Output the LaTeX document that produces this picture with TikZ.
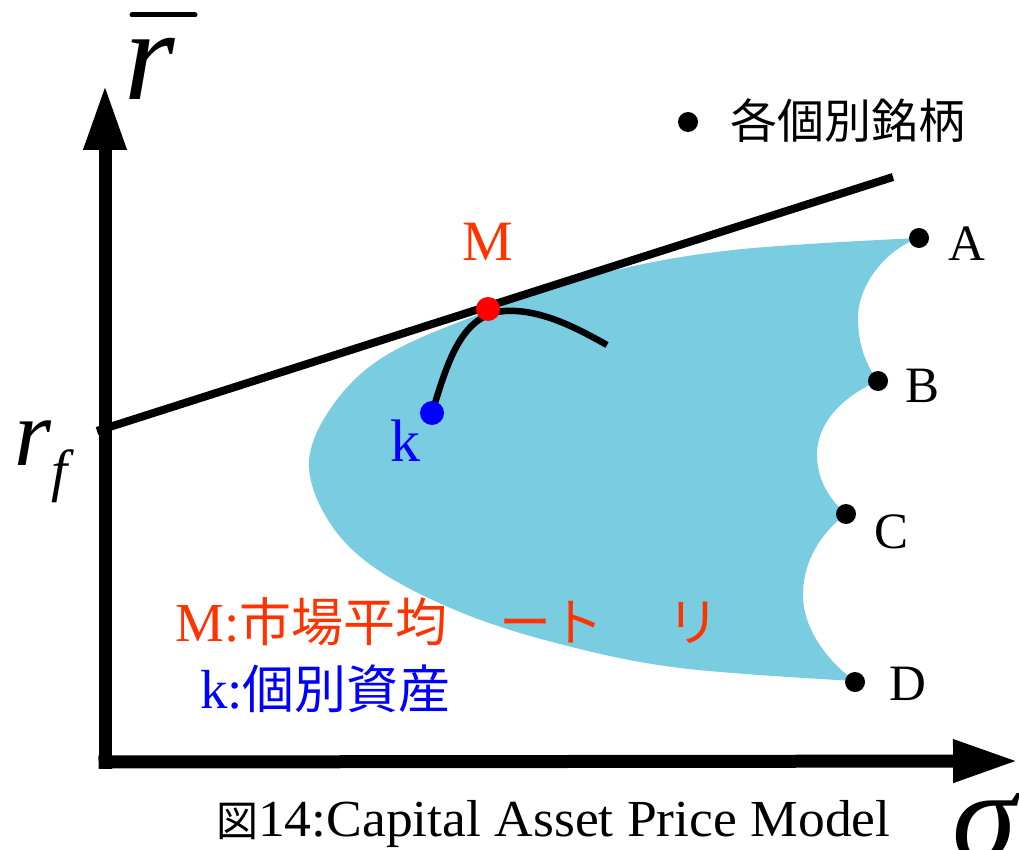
\documentclass[tikz,border=0pt]{standalone}
\usepackage{fontspec}
\setmainfont{Liberation Serif}
\newfontfamily\cjk{Noto Sans CJK JP}
\usetikzlibrary{arrows.meta}
\definecolor{regionblue}{RGB}{122,204,224}
\definecolor{labelred}{RGB}{255,51,0}
\newcommand{\myfs}[1]{\fontsize{#1}{#1}\selectfont}
\begin{document}
\begin{tikzpicture}[x=1pt,y=-1pt,
  dotstyle/.style={circle,fill=black,inner sep=0pt,minimum size=20pt},
  lbl/.style={anchor=base west,inner sep=0pt},
  axis/.style={line width=13pt,line cap=rect,-{Triangle[length=65pt,width=40pt]}}]
\useasboundingbox (0,0) rectangle (1019,850);
% feasible region
\fill[regionblue] plot[smooth,tension=0.6] coordinates {(919,238) (733,250) (600,274) (480,314) (385,356) (333,405) (309,462) (328,520) (375,568) (460,612) (560,644) (680,668) (855,681)}
  .. controls (826,660) and (803,628) .. (803,595)
  .. controls (803,560) and (822,532) .. (846,514)
  .. controls (830,500) and (817,480) .. (817,455)
  .. controls (817,420) and (846,395) .. (878,381)
  .. controls (866,365) and (858,345) .. (858,318)
  .. controls (858,285) and (885,250) .. (919,238) -- cycle;
% capital market line
\coordinate (cmlstart) at (97,431);
\coordinate (cmlend) at (893,177);
\draw[line width=8pt] (cmlstart) -- (cmlend);
% curve k - M
\coordinate (kpos) at (432,413);
\coordinate (Mpos) at (488,309);
\coordinate (cend) at (607,345);
\draw[line width=6.5pt] (kpos) .. controls (448,360) and (462,314) .. (505,311) .. controls (540,309) and (575,327) .. (cend);
\node[circle,fill=red,inner sep=0pt,minimum size=24pt] (M) at (Mpos) {};
\node[circle,fill=blue,inner sep=0pt,minimum size=24pt] (k) at (kpos) {};
% stocks
\node[dotstyle] (A) at (919,238) {};
\node[dotstyle] (B) at (878,381) {};
\node[dotstyle] (C) at (846,514) {};
\node[dotstyle] (D) at (855,682) {};
\node[lbl] (Alab) at (948,261) {\myfs{51}A};
\node[lbl] (Blab) at (905,402) {\myfs{51}B};
\node[lbl] (Clab) at (874,548) {\myfs{51}C};
\node[lbl] (Dlab) at (889,700) {\myfs{51}D};
% legend top
\node[dotstyle] (legdot) at (688,122) {};
\node[lbl] (legtext) at (730,139) {\myfs{47}\cjk 各個別銘柄};
% axes
\coordinate (O) at (105,762);
\coordinate (ytip) at (105,85);
\coordinate (xtip) at (1018,761);
\draw[axis] (O) -- (ytip);
\draw[axis] (O) -- (xtip);
% axis labels
\node[lbl] (rbar) at (124,100) {\myfs{130}\textit{r}};
\coordinate (bar1) at (132,15);
\coordinate (bar2) at (195,15);
\draw[line width=5pt,line cap=round] (bar1) -- (bar2);
\node[lbl] (rf) at (14,465) {\myfs{95}\textit{r}\raisebox{-25pt}{\myfs{58}\textit{f}}};
\node[lbl] (sigma) at (952,860) {\myfs{130}\textit{σ}};
% point labels
\node[anchor=base,inner sep=0pt,text=labelred] (Mlab) at (488,260) {\myfs{57}M};
\node[lbl,text=blue] (klab) at (390,461) {\myfs{60}k};
% legend bottom
\node[lbl,text=labelred] (leg1) at (175,641) {\myfs{55}M:{\myfs{52}\cjk 市場平均\hspace{52pt}ート\hspace{64pt}リ}};
\node[lbl,text=blue] (leg2) at (200,708) {\myfs{55}k:{\myfs{52}\cjk 個別資産}};
% caption
\node[lbl] (cap) at (216,836) {{\myfs{42}\cjk 図}\scalebox{1.03}[1]{\myfs{52}14:Capital Asset Price Model}};
\end{tikzpicture}
\end{document}
